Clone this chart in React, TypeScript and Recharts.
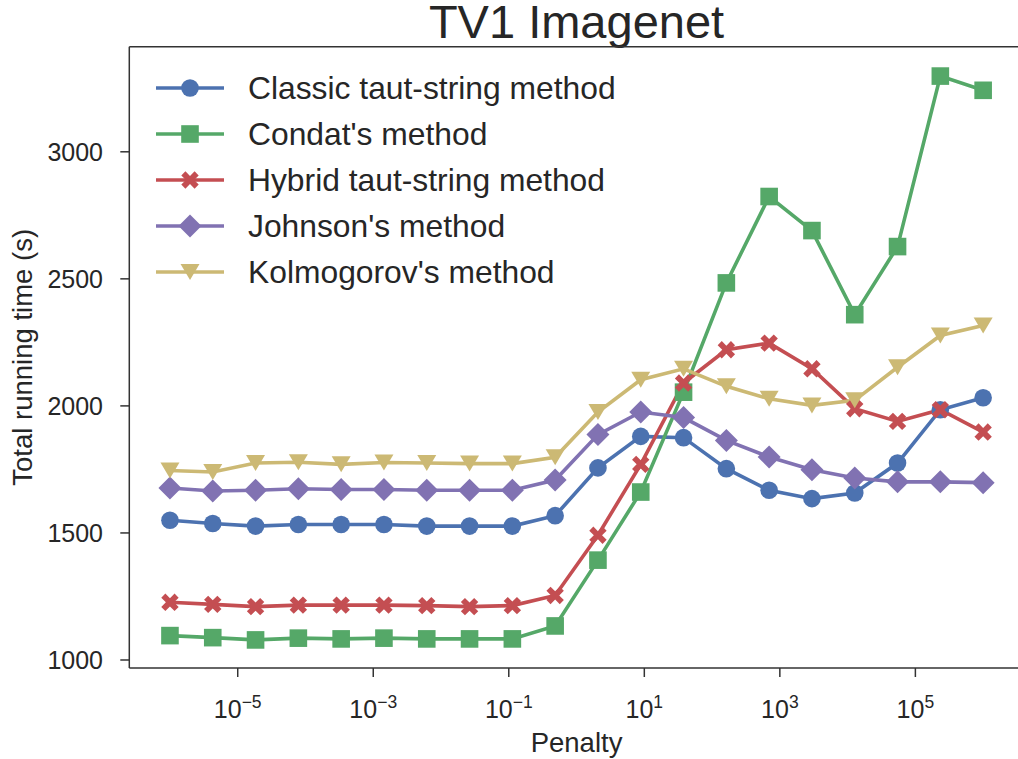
import React from "react";
import { LineChart, Line, XAxis, YAxis, Legend, ReferenceLine, Label } from "recharts";

// penalty grid (log-spaced, 1e-6 .. 1e6)
const PENALTY = [
  1e-6, 4.281e-6, 1.833e-5, 7.848e-5, 3.36e-4, 1.438e-3, 6.158e-3, 2.637e-2, 0.1129, 0.4833,
  2.069, 8.859, 37.93, 162.4, 695.2, 2976, 12743, 54556, 233572, 1e6,
];

const CLASSIC = [1550, 1537, 1527, 1533, 1533, 1533, 1527, 1527, 1527, 1568, 1756, 1880, 1875, 1753, 1668, 1635, 1657, 1775, 1985, 2032];
const CONDAT = [1096, 1088, 1079, 1086, 1083, 1086, 1083, 1083, 1083, 1134, 1393, 1661, 2054, 2484, 2824, 2690, 2359, 2627, 3298, 3242];
const HYBRID = [1227, 1219, 1210, 1216, 1216, 1216, 1214, 1210, 1214, 1254, 1491, 1770, 2090, 2221, 2247, 2146, 1989, 1939, 1985, 1897];
const JOHNSON = [1677, 1665, 1668, 1674, 1671, 1671, 1668, 1668, 1668, 1708, 1887, 1976, 1954, 1864, 1799, 1749, 1716, 1701, 1701, 1698];
const KOLMOGOROV = [1746, 1740, 1775, 1778, 1770, 1777, 1775, 1773, 1773, 1798, 1976, 2103, 2146, 2077, 2028, 2002, 2022, 2152, 2277, 2316];

const X_TICKS = [1e-5, 1e-3, 1e-1, 1e1, 1e3, 1e5];
const Y_TICKS = [1000, 1500, 2000, 2500, 3000];

const X_DOMAIN = [Math.pow(10, -6.6), Math.pow(10, 6.6)];
const Y_DOMAIN = [968.5, 3413.6];

const TEXT = "#262626";
const SPINE = "#333333";
const FONT = "'Liberation Sans', Arial, sans-serif";

const data = PENALTY.map((p, i) => ({
  penalty: p,
  classic: CLASSIC[i],
  condat: CONDAT[i],
  hybrid: HYBRID[i],
  johnson: JOHNSON[i],
  kolmogorov: KOLMOGOROV[i],
}));

type Shape = "circle" | "square" | "x" | "diamond" | "tri";

// ============[ MARKERS ]============
function Marker({ cx, cy, shape, color }: { cx: number; cy: number; shape: Shape; color: string }) {
  if (cx == null || cy == null) return null;
  if (shape === "circle") return <circle cx={cx} cy={cy} r={8.8} fill={color} />;
  if (shape === "square") return <rect x={cx - 8.8} y={cy - 8.8} width={17.6} height={17.6} fill={color} />;
  if (shape === "diamond") {
    const r = 11.5;
    return <polygon points={`${cx},${cy - r} ${cx + r},${cy} ${cx},${cy + r} ${cx - r},${cy}`} fill={color} />;
  }
  if (shape === "tri") {
    return <polygon points={`${cx - 9.5},${cy - 8} ${cx + 9.5},${cy - 8} ${cx},${cy + 8}`} fill={color} />;
  }
  // filled "X"
  const r = 9.4;
  const a = 2.9;
  const pts = [
    [-a, -r], [a, -r], [a, -a], [r, -a], [r, a], [a, a],
    [a, r], [-a, r], [-a, a], [-r, a], [-r, -a], [-a, -a],
  ]
    .map(([px, py]) => `${px},${py}`)
    .join(" ");
  return <polygon points={pts} fill={color} transform={`translate(${cx},${cy}) rotate(45)`} />;
}

const SERIES: { key: string; name: string; color: string; shape: Shape }[] = [
  { key: "classic", name: "Classic taut-string method", color: "#4C72B0", shape: "circle" },
  { key: "condat", name: "Condat's method", color: "#55A868", shape: "square" },
  { key: "hybrid", name: "Hybrid taut-string method", color: "#C44E52", shape: "x" },
  { key: "johnson", name: "Johnson's method", color: "#8172B2", shape: "diamond" },
  { key: "kolmogorov", name: "Kolmogorov's method", color: "#CCB974", shape: "tri" },
];

const LogTick = ({ x, y, payload }: any) => {
  const exp = Math.round(Math.log10(payload.value));
  const txt = exp < 0 ? `\u2212${-exp}` : `${exp}`;
  return (
    <text x={x} y={y + 41} textAnchor="middle" fill={TEXT} fontSize={25} fontFamily={FONT}>
      10
      <tspan dy={-10} fontSize={17.5}>
        {txt}
      </tspan>
    </text>
  );
};

const LegendBox = () => (
  <div style={{ fontFamily: FONT, color: TEXT }}>
    {SERIES.map((s) => (
      <div key={s.key} style={{ display: "flex", alignItems: "center", height: 46 }}>
        <svg width={68} height={46} style={{ display: "block" }}>
          <line x1={0} y1={23} x2={68} y2={23} stroke={s.color} strokeWidth={3.6} />
          <Marker cx={34} cy={23} shape={s.shape} color={s.color} />
        </svg>
        <span style={{ fontSize: 31.8, marginLeft: 24, whiteSpace: "nowrap", lineHeight: "46px" }}>{s.name}</span>
      </div>
    ))}
  </div>
);

export default function App() {
  return (
    <div
      style={{
        position: "absolute",
        left: 0,
        top: 0,
        width: 1018,
        height: 759,
        overflow: "hidden",
        background: "#fff",
        fontFamily: FONT,
      }}
    >
      <div
        style={{
          position: "absolute",
          left: 576.5,
          top: 2,
          transform: "translateX(-50%)",
          fontSize: 47,
          lineHeight: "40px",
          color: TEXT,
          whiteSpace: "nowrap",
        }}
      >
        TV1 Imagenet
      </div>
      <LineChart
        width={1040}
        height={759}
        data={data}
        margin={{ top: 46.7, right: 16.2, left: 0, bottom: 11 }}
        style={{ position: "absolute", left: 0, top: 0 }}
      >
        <XAxis
          dataKey="penalty"
          type="number"
          scale="log"
          domain={X_DOMAIN}
          ticks={X_TICKS}
          allowDataOverflow
          height={80}
          tickSize={9}
          tickMargin={0}
          tick={<LogTick />}
          tickLine={{ stroke: SPINE, strokeWidth: 1.5 }}
          axisLine={{ stroke: SPINE, strokeWidth: 1.5 }}
        >
          <Label
            content={({ viewBox }: any) => (
              <text
                x={viewBox.x + viewBox.width / 2}
                y={751.5}
                textAnchor="middle"
                fill={TEXT}
                fontSize={27.5}
                fontFamily={FONT}
              >
                Penalty
              </text>
            )}
          />
        </XAxis>
        <YAxis
          type="number"
          domain={Y_DOMAIN}
          ticks={Y_TICKS}
          allowDataOverflow
          width={129.3}
          tickSize={9}
          tickMargin={17.3}
          tick={{ fill: TEXT, fontSize: 25, fontFamily: FONT }}
          tickLine={{ stroke: SPINE, strokeWidth: 1.5 }}
          axisLine={{ stroke: SPINE, strokeWidth: 1.5 }}
        >
          <Label
            content={({ viewBox }: any) => {
              const cy = viewBox.y + viewBox.height / 2;
              return (
                <text
                  x={32}
                  y={cy}
                  textAnchor="middle"
                  fill={TEXT}
                  fontSize={27.5}
                  fontFamily={FONT}
                  transform={`rotate(-90, 32, ${cy})`}
                >
                  Total running time (s)
                </text>
              );
            }}
          />
        </YAxis>
        <ReferenceLine y={Y_DOMAIN[1]} stroke={SPINE} strokeWidth={1.5} ifOverflow="extendDomain" />
        {SERIES.map((s) => (
          <Line
            key={s.key}
            dataKey={s.key}
            name={s.name}
            stroke={s.color}
            strokeWidth={3.6}
            isAnimationActive={false}
            dot={(p: any) => <Marker key={`${s.key}-${p.index}`} cx={p.cx} cy={p.cy} shape={s.shape} color={s.color} />}
            activeDot={false}
          />
        ))}
        <Legend
          layout="vertical"
          align="center"
          verticalAlign="middle"
          content={() => <LegendBox />}
          wrapperStyle={{ left: 156, top: 65, width: "auto" }}
        />
      </LineChart>
    </div>
  );
}
